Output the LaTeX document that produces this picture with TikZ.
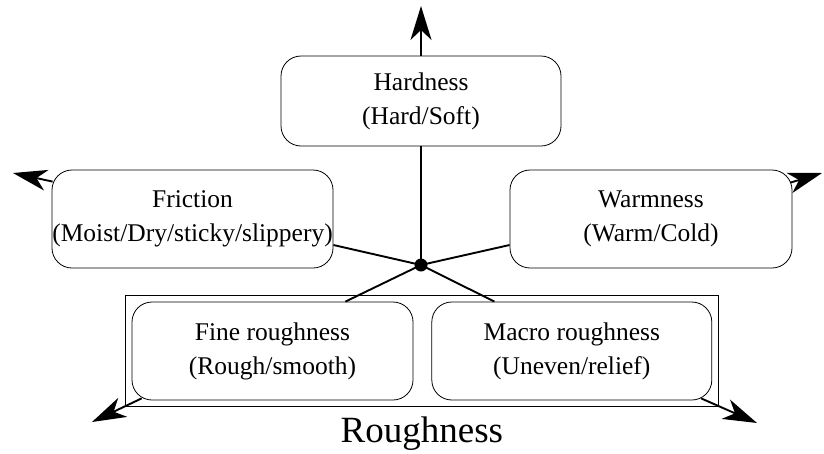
\documentclass[tikz,border=0pt]{standalone}
\usepackage{fontspec}
\setmainfont{Liberation Serif}
\usetikzlibrary{positioning,calc,fit,arrows.meta}

\begin{document}
\begin{tikzpicture}[x=1pt,y=-1pt,
	box/.style={draw=black,line width=0.8pt,rounded corners=20pt,align=center,inner sep=0pt,font=\fontsize{25.5}{34}\selectfont},
	link/.style={line width=1.9pt},
	outarrow/.style={line width=1.9pt,-{Stealth[length=34pt,width=21pt,inset=10pt]}}]
		\useasboundingbox (0,0) rectangle (824,453);
		
		\node[box,minimum width=280pt,minimum height=90pt] (hard) at (421,101) {Hardness\\(Hard/Soft)};
		
		\node[box,minimum width=281pt,minimum height=98pt] (fric) at (192.5,219) {Friction\\(Moist/Dry/sticky/slippery)};
		
		\node[box,minimum width=282pt,minimum height=98pt] (warm) at (651,219) {Warmness\\(Warm/Cold)};
		
		\node[box,minimum width=281pt,minimum height=98pt] (fine) at (272.5,351) {Fine roughness\\(Rough/smooth)};
		\node[box,minimum width=280pt,minimum height=98pt,right=18pt of fine] (macro) {Macro roughness\\(Uneven/relief)};
		
		\node[draw=black,line width=0.8pt,fit=(fine)(macro),inner sep=6pt] (rough) {};
		\node[below=6pt of rough,font=\fontsize{37}{40}\selectfont] (roughlabel) {Roughness};
		
		% centre point and the links to each box
		\coordinate (c) at (421,265);
		\draw[link] (c)--(hard.south);
		\draw[link] (c)--([yshift=-26pt]fric.east);
		\draw[link] (c)--([yshift=-26pt]warm.west);
		\draw[link] (c)--([xshift=-68pt]fine.north east);
		\draw[link] (c)--([xshift=63pt]macro.north west);
		\fill (c) circle (6.5pt);
		
		% arrow ends
		\coordinate (uptip) at (421,6);
		\coordinate (lefttip) at (13,173);
		\coordinate (righttip) at (822,173);
		\coordinate (fltip) at (92,422);
		\coordinate (mrtip) at (757,423);
		
		\draw[outarrow] (hard.north)--(uptip);
		\draw[outarrow] ([shift={(1pt,-12pt)}]fric.north west)--(lefttip);
		\draw[outarrow] ([shift={(-2pt,-13pt)}]warm.north east)--(righttip);
		\draw[outarrow] ([shift={(10pt,2pt)}]fine.south west)--(fltip);
		\draw[outarrow] ([shift={(-11pt,2pt)}]macro.south east)--(mrtip);
	\end{tikzpicture}
\end{document}
